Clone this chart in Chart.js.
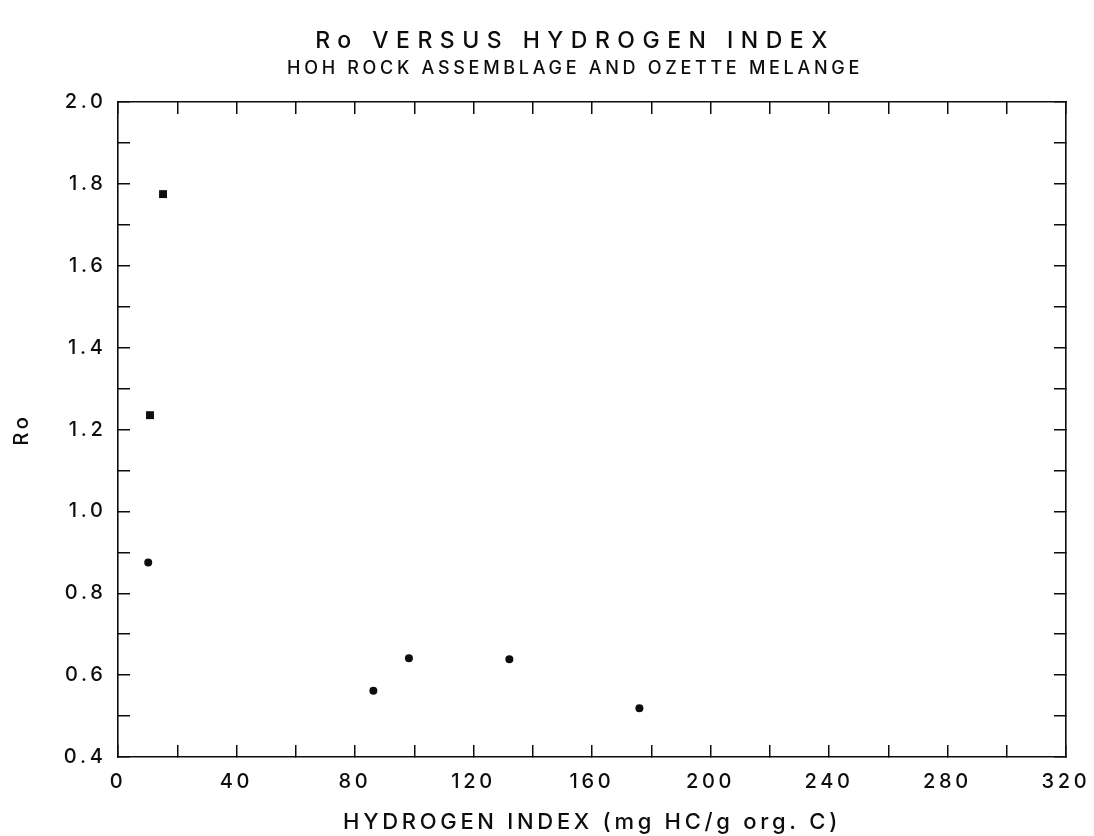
<!DOCTYPE html>
<html>
<head>
<meta charset="utf-8">
<title>Ro versus Hydrogen Index</title>
<script src="https://cdn.jsdelivr.net/npm/chart.js@4"></script>
<style>
  html, body { margin: 0; padding: 0; background: #ffffff; }
  #wrap { width: 1094px; height: 836px; position: relative; }
</style>
</head>
<body>
<div id="wrap"><canvas id="chart"></canvas></div>
<script>
/* Ro versus Hydrogen Index — Hoh rock assemblage and Ozette melange.
 * Two marker kinds in the source plot: filled squares and filled dots. */

const squareHI = [15.2, 10.8];
const squareRo = [1.775, 1.235];

const dotHI = [10.2, 86.2, 98.2, 132.1, 176.0];
const dotRo = [0.875, 0.562, 0.641, 0.639, 0.519];

const xMin = 0, xMax = 320, xStep = 20;   // labels every 40
const yMin = 0.4, yMax = 2.0, yStep = 0.1; // labels every 0.2

const INK = "#0d0d0d";
const FONT = "Inter, 'Liberation Sans', Arial, sans-serif";

const toPoints = (xs, ys) => xs.map((x, i) => ({ x, y: ys[i] }));

// ------------------------------------------------------------------
// Letter spacing: the plotter font is wide, so open up the text a bit.
// Main title gets extra tracking.
// ------------------------------------------------------------------
const spacing = {
  id: "spacing",
  beforeDraw(chart) {
    chart.ctx.letterSpacing = "3.7px";
    const t = chart.titleBlock;
    if (t && !t._spaced) {
      const draw = t.draw;
      t.draw = function (...args) {
        const ctx = this.ctx;
        const prev = ctx.letterSpacing;
        ctx.letterSpacing = "7.5px";
        draw.apply(this, args);
        ctx.letterSpacing = prev;
      };
      t._spaced = true;
    }
  },
  afterDraw(chart) {
    chart.ctx.letterSpacing = "0px";
  },
};

// Inward ticks on all four sides, plain frame, no grid.
function frameGrid() {
  return {
    display: true,
    drawOnChartArea: false,
    drawTicks: true,
    tickLength: -12,
    color: INK,
    lineWidth: 1.5,
  };
}
const frameBorder = { display: true, color: INK, width: 1.6 };

// fixed box sizes, and no label overhang pushing the plot area in
function fixHeight(h) {
  return s => { s.height = h; s.paddingLeft = 0; s.paddingRight = 0; };
}
function fixWidth(w) {
  return s => { s.width = w; s.paddingTop = 0; s.paddingBottom = 0; };
}

const xLabel = v => (Math.round(v) % 40 === 0 ? String(Math.round(v)) : "");
const yLabel = v => (Math.round(v * 10) % 2 === 0 ? v.toFixed(1) : "");

// left padding shifts the centred titles to where the original has them;
// the y axis box then makes up the rest of the 118px margin
// (kept small enough that the y labels are not clipped)
const PAD_LEFT = 56;

new Chart(document.getElementById("chart"), {
  type: "scatter",
  data: {
    datasets: [
      {
        label: "squares",
        data: toPoints(squareHI, squareRo),
        pointStyle: "rect",
        pointRadius: 5.6,
        backgroundColor: INK,
        borderColor: INK,
        borderWidth: 0,
      },
      {
        label: "dots",
        data: toPoints(dotHI, dotRo),
        pointStyle: "circle",
        pointRadius: 4,
        backgroundColor: INK,
        borderColor: INK,
        borderWidth: 0,
      },
    ],
  },
  options: {
    responsive: true,
    maintainAspectRatio: false,
    animation: false,
    layout: { padding: { left: PAD_LEFT, right: 0, top: 0, bottom: 0 } },
    plugins: {
      legend: { display: false },
      tooltip: { enabled: false },
      title: {
        display: true,
        text: "Ro VERSUS HYDROGEN INDEX",
        color: INK,
        font: { family: FONT, size: 23, weight: 500, lineHeight: 1.2 },
        padding: { top: 27, bottom: 0 },
      },
      subtitle: {
        display: true,
        text: "HOH ROCK ASSEMBLAGE AND OZETTE MELANGE",
        color: INK,
        font: { family: FONT, size: 18, weight: 500, lineHeight: 1.2 },
        padding: { top: 3.6, bottom: 22.2 },
      },
    },
    scales: {
      x: {
        type: "linear",
        position: "bottom",
        min: xMin, max: xMax,
        afterFit: fixHeight(79),
        ticks: {
          stepSize: xStep,
          autoSkip: false,
          maxRotation: 0,
          padding: 25,
          color: INK,
          font: { family: FONT, size: 20, weight: 500 },
          callback: xLabel,
        },
        grid: frameGrid(),
        border: frameBorder,
        title: {
          display: true,
          text: "HYDROGEN INDEX (mg HC/g org. C)",
          color: INK,
          font: { family: FONT, size: 22, weight: 500, lineHeight: 1.2 },
          padding: { top: 4, bottom: 0 },
        },
      },
      x2: {
        type: "linear",
        position: "top",
        min: xMin, max: xMax,
        afterFit: fixHeight(0),
        ticks: { stepSize: xStep, autoSkip: false, display: false },
        grid: frameGrid(),
        border: frameBorder,
      },
      y: {
        type: "linear",
        position: "left",
        min: yMin, max: yMax,
        afterFit: fixWidth(118 - PAD_LEFT),
        ticks: {
          stepSize: yStep,
          autoSkip: false,
          padding: 23.5,
          color: INK,
          font: { family: FONT, size: 20, weight: 500 },
          callback: yLabel,
        },
        grid: frameGrid(),
        border: frameBorder,
        title: {
          display: true,
          text: "Ro",
          color: INK,
          font: { family: FONT, size: 20, weight: 500, lineHeight: 1.2 },
          padding: { top: 10 - PAD_LEFT, bottom: 0 },
        },
      },
      y2: {
        type: "linear",
        position: "right",
        min: yMin, max: yMax,
        afterFit: fixWidth(28),
        ticks: { stepSize: yStep, autoSkip: false, display: false },
        grid: frameGrid(),
        border: frameBorder,
      },
    },
  },
  plugins: [spacing],
});
</script>
</body>
</html>
